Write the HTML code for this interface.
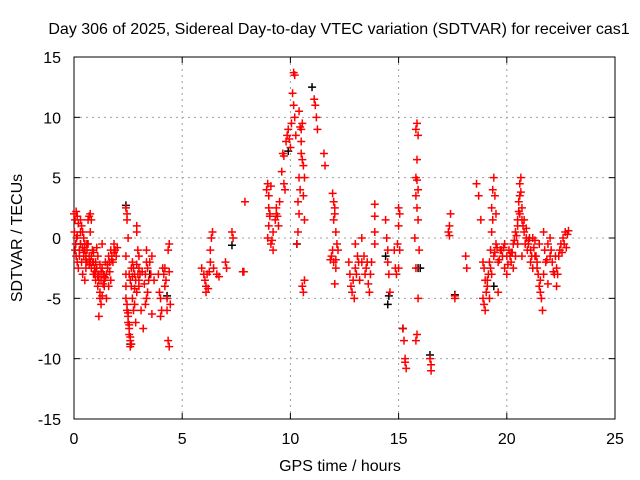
<!DOCTYPE html>
<html><head><meta charset="utf-8"><style>
body{margin:0;background:#fff}
svg{display:block;font-family:"Liberation Sans",sans-serif}
</style></head><body>
<svg id="c" width="640" height="480"></svg>
<script>
const xTicks=[0,5,10,15,20,25];
const yTicks=[-15,-10,-5,0,5,10,15];
const redT=[0,0.05,0.1,0.15,0.2,0.05,0.1,0.15,0.2,0.25,0.3,0.35,0.4,0.45,0.5,0.55,0.6,0.65,0.7,0.75,0.8,0.35,0.4,0.45,0.5,0.55,0.6,0.65,0.7,0.75,0.8,0.85,0.9,0.95,1,1.05,1.1,1.15,1.2,1.25,1.3,1.35,1.4,1.45,1.5,1.55,1.6,1.65,1.7,1.75,1.8,1.85,1.9,1.95,2,1.2,1.15,1.25,1.3,0.9,1,1.1,1.7,1.6,1.5,1.3,0.5,0.02,0.08,0.12,0.3,0.6,0.9,1.05,1.4,
0.25,0.3,0.4,0.45,0.55,0.6,0.7,0.8,0.85,0.95,1.0,1.1,1.15,1.25,1.35,1.45,1.55,1.65,1.75,1.85,0.15,0.3,0.75,1.2,1.4,
2.4,2.45,2.45,2.5,2.4,2.4,2.4,2.4,2.45,2.45,2.5,2.5,2.55,2.55,2.6,2.65,2.6,2.55,2.6,2.65,2.7,2.75,2.8,2.85,2.7,2.75,2.8,2.85,2.9,2.95,3,3.05,2.9,2.9,2.95,3,3,3.1,3.2,3.3,3.35,3.35,3.4,3.45,3.4,3.35,3.3,3.5,3.55,3.6,
2.5,2.55,2.6,2.65,2.7,2.8,2.9,3.0,3.15,3.25,
3.9,3.95,4,4,4.05,4.1,4.15,4.2,4.25,4.2,4.3,4.3,4.35,4.4,4.35,4.4,4.45,4.4,3.7,3.6,
5.9,6,6.05,6.1,6.1,6.2,6.15,6.25,6.3,6.35,6.4,6.3,6.45,6.6,6.7,7,7.05,7.3,7.35,7.8,7.85,7.9,
8.9,8.95,9,9,9.05,9.1,9,8.95,9.1,9.15,9.2,9.05,9.2,9.3,9.35,9.4,9.35,9.45,9.5,9.6,9.65,9.7,9.7,9.75,9.8,9.85,9.9,9.95,10,10.05,10.1,10.15,10.2,10.15,10.2,10.25,10.4,10.45,10.5,10.55,10.5,10.6,10.65,10.5,10.45,10.4,10.35,10.3,10.35,10.4,10.6,10.65,10.55,10.65,10.6,10.55,11.1,11.15,11.2,11.25,11.55,11.6,
11.95,12,12.05,12,12.1,12.05,12.15,11.9,11.85,12,12.1,12.2,11.95,12.1,12.05,
12.7,12.75,12.8,12.85,12.9,12.95,13,13.05,13.1,13.15,13.2,13.3,13.4,13.45,13.5,13.55,13.6,13.65,13.7,13.75,13.3,13,
13.9,13.9,13.9,13.9,14.4,14.45,14.5,14.5,14.55,14.6,14.8,14.85,14.9,14.95,15,15.05,15,15.05,15,
15.2,15.25,15.3,15.3,15.35,15.8,15.85,15.9,15.85,15.8,15.85,15.9,15.8,15.85,15.9,15.75,15.8,15.9,15.85,15.8,15.95,16.45,16.5,16.5,17.4,17.35,17.3,17.35,17.6,17.6,18.1,18.15,
18.6,18.7,18.8,18.9,18.95,18.9,18.95,19,19.05,19.1,19.15,19.2,19.25,19.3,19.35,19.3,19.35,19.4,19.45,19.5,19.3,19.4,19.5,19.6,19.7,19.8,19.9,20,20.1,20.2,20.3,20.4,20.5,20.55,20.6,20.65,20.6,20.7,20.75,20.8,20.85,20.9,20.95,21,21.1,21.2,21.3,21.4,21.45,21.5,21.55,21.6,21.65,21.7,21.8,21.9,22,22.1,22.2,22.3,22.4,22.5,22.6,22.7,22.8,21.7,22,21.5,20,19.6,20.3,19.9,21.2,21.9,22.3,19,19.2,20.5,20.5,20.4,19.75,20.25,20.7,21.05,21.35,22.15,22.45,22.75,20.15,19.55,
19.1,19.25,19.45,19.65,19.85,20.05,20.2,20.35,20.45,20.55,20.65,20.8,20.9,21.0,21.15,21.25,21.4,21.55,21.75,21.85,22.05,22.25,22.35,22.55,22.65,22.85,20.6,20.7,21.1,21.3];
const redV=[2,1.5,2.2,1.8,1.2,-1,-1.5,-2,-2.5,-1,0.5,1,0.5,0,-1,-1.5,-2,1.5,1.8,2,1.5,-2,-3,-1.5,-0.5,-2.5,-1,-0.5,-1.5,-2,-2.5,-1,-2,-3,-3.5,-2.5,-4,-3,-4.5,-3.5,-2.5,-3,-4,-2,-3,-2.5,-1.5,-2,-1,-1.5,-2,-0.5,-1,-1.5,-0.8,-5,-6.5,-5.5,-4.8,-3,-2,-1.5,-3.5,-4,-5,-0.5,-3.5,0.5,-0.5,0,-0.5,-0.5,-1.2,-0.8,-3.2,
-1.5,-0.5,-0.8,-1.2,-1.8,-0.5,-2.2,-1.5,-2,-2.5,-2.8,-3.2,-3.5,-2.8,-3.8,-3.3,-2.2,-2.8,-1.8,-1.2,0.2,1.5,0.5,-2.2,-3.5,
2.5,2,1.5,0,-1.5,-3,-4,-5,-5.5,-6,-6.5,-7,-7.5,-8,-8.5,-8.8,-9,-3,-3.5,-2.5,-2,-2.5,-3,-3.5,-5,-6,-5.5,-7,-4.5,-3,-2.5,-3,0.5,1,-1,-1.5,-4,-6,-7.5,-3,-2,-1,-2.5,-3.5,-4.5,-5,-5.5,-2,-3,-1.5,
-6.2,-7.2,-8.2,-4,-3.2,-4.2,-2.2,-3.5,-2.8,-3.8,
-3,-4.5,-5,-6.5,-6,-2.5,-3,-2.5,-3.5,-4,-5,-6,-8.5,-9,-1,-0.5,-5.5,-2.8,-3.5,-6.3,
-2.5,-3,-3.5,-4,-4.5,-4.2,-3,-2.8,-1,0,0.5,-2,-2.5,-3,-3.2,-2,-2.5,0.5,0,-2.8,-2.8,3,
4,4.5,3.5,2.5,1.8,4.3,1,0,-0.5,-0.2,-1,2,0.5,1.5,2,1.8,2.5,1,3,5.5,7,6.8,4.5,4,8,8.5,9,8.2,7.5,9.5,12,13.7,13.5,11,10,8.5,10.5,9.2,9,9.5,8,6,5,7,4,2,0.5,-0.5,3,5,3.5,1.5,6.5,-3.5,-4.5,-4,11.5,11,10,9,7,6,
3.7,3,2.5,1.5,0.5,2,-0.5,-1.5,-1.8,-2,-1.8,-1,-1,-2.5,-3.8,
-2,-3,-4,-4.5,-3.5,-5,-2.5,-3,-1.5,-2,-3.5,-2,-1.5,-3,-2.5,-2,-3.8,-4.5,-3,-2,0,-0.5,
2.8,1.8,0.5,-0.5,1.5,0,-1,-2,-3,-4.5,-1,-2.5,-3,-0.5,2.5,2,1,-1,-2.5,
-7.5,-8.5,-10,-10.3,-10.8,9,9.5,8.5,6.5,5,4.8,4,3.5,2.5,1.5,0,-2.5,-5,-8,-8.5,-1,-10,-10.5,-11,2,1,0.5,0.2,-4.8,-5,-1.5,-2.5,
4.5,3.5,1.5,-2,-2.5,-5,-5.5,-6,-4.5,-4,-3,-2,-1,0.5,1.5,2.5,4,5,3.5,2,-3,-1.5,-0.5,-2,-1,-1.5,-0.5,-1.5,-1,-2,-0.5,0.5,1,3,4.5,5,2,2.5,1,0.5,-0.5,0,-1,-0.5,-1,0,-1.5,-2,-3,-4,-4.5,-5,-6,-3,-2,-0.5,-1.5,-2,-3,-2.5,-1.5,-0.5,0,0.5,0.3,0.5,0,-0.5,-3,-4.5,-2.5,-2.5,-2.5,-3.8,-4,-3.5,-5,-0.5,1.5,-1.5,-1,-1.2,1.5,0,-1.5,-2.8,-1,-0.8,-1.5,-0.8,
-3.5,-2.5,-1.2,-1.8,-0.8,-2.2,-1.2,-0.2,0.2,2.2,3.8,1.5,0.8,-0.2,-1.5,-0.8,-2.5,-3.5,-1,-1.8,-1,-1.5,-3,-1.2,-0.5,0.6,3.5,-1.5,-2,-0.2];
const blackT=[2.4,2.6,9.9,10.3,11,14.5,14.55,15.2,15.9,16,16.45,17.6,7.3,3.5,4.3,19.4,14.4];
const blackV=[2.7,-8.8,7.2,-0.5,12.5,-5.5,-4.8,-7.5,-2.5,-2.5,-9.7,-4.7,-0.6,-3,-4.8,-4,-1.5];

const svg=document.getElementById('c');
const NS='http://www.w3.org/2000/svg';
const X0=74,X1=615,Y0=419,Y1=57;
const sx=t=>X0+(t-0)/25*(X1-X0);
const sy=v=>Y0-(v+15)/30*(Y0-Y1);
function mk(tag,attrs,parent){const e=document.createElementNS(NS,tag);for(const k in attrs)e.setAttribute(k,attrs[k]);(parent||svg).appendChild(e);return e;}

const grid=mk('g',{});


xTicks.forEach(t=>{
  if(t>0&&t<25){mk('line',{x1:sx(t),x2:sx(t),y1:Y1,y2:Y0,stroke:'#a0a0a0','stroke-dasharray':'2,4'},grid);}
  const lbl=mk('text',{x:sx(t),y:444,'text-anchor':'middle','font-size':16,fill:'#000'});
  lbl.textContent=t;
  
  
  mk('line',{x1:sx(t),x2:sx(t),y1:Y0,y2:Y0-6,stroke:'#000'});
  mk('line',{x1:sx(t),x2:sx(t),y1:Y1,y2:Y1+6,stroke:'#000'});
});
yTicks.forEach(v=>{
  if(v>-15&&v<15){mk('line',{x1:X0,x2:X1,y1:sy(v),y2:sy(v),stroke:'#a0a0a0','stroke-dasharray':'2,4'},grid);}
  const lbl=mk('text',{x:61,y:sy(v)+6,'text-anchor':'end','font-size':16,fill:'#000'});
  lbl.textContent=v;
  
  
  mk('line',{x1:X0,x2:X0+6,y1:sy(v),y2:sy(v),stroke:'#000'});
  mk('line',{x1:X1,x2:X1-6,y1:sy(v),y2:sy(v),stroke:'#000'});
});
const frame=mk('rect',{x:X0,y:Y1,width:X1-X0,height:Y0-Y1,fill:'none',stroke:'#000'});



function plus(g,t,v,col){
  const x=sx(t),y=sy(v);
  const p=mk('path',{d:`M${x-4},${y}H${x+4}M${x},${y-4}V${y+4}`,stroke:col,'stroke-width':1.5},g);
  
  
}
const gb=mk('g',{});


blackT.forEach((t,i)=>plus(gb,t,blackV[i],'#000'));
const gr=mk('g',{});


redT.forEach((t,i)=>plus(gr,t,redV[i],'#f00'));

const title=mk('text',{x:339,y:34,'text-anchor':'middle','font-size':16});
title.textContent='Day 306 of 2025, Sidereal Day-to-day VTEC variation (SDTVAR) for receiver cas1';


const xl=mk('text',{x:340,y:471,'text-anchor':'middle','font-size':16});
xl.textContent='GPS time / hours';


const yl=mk('text',{x:0,y:0,'text-anchor':'middle','font-size':16,transform:'translate(22,238) rotate(-90)'});
yl.textContent='SDTVAR / TECUs';


</script>
</body></html>
